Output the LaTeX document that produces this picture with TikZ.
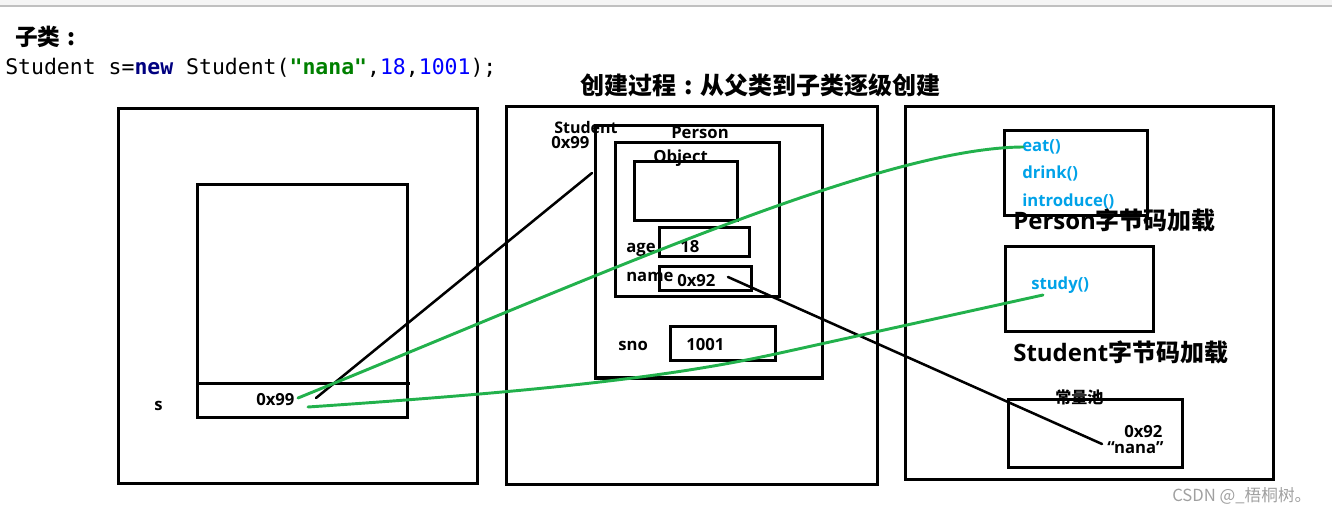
\documentclass[tikz,border=0pt]{standalone}
\usepackage{fontspec}
\usetikzlibrary{fit}
\setmainfont{Open Sans}
\newfontfamily\cjk{Noto Sans CJK SC}
\newfontfamily\codefont{DejaVu Sans Mono}
\definecolor{pgreen}{HTML}{22B14C}
\definecolor{pblue}{HTML}{00A2E8}
\definecolor{navy}{HTML}{000080}
\definecolor{cgreen}{HTML}{008000}
\definecolor{cblue}{HTML}{0000FF}
\definecolor{topbar}{HTML}{F5F5F5}
\definecolor{topline}{HTML}{C0C0C0}
\definecolor{wm}{HTML}{A0A0A0}
\newcommand\fwcolon{\makebox[1em][c]{:}}
\begin{document}
\begin{tikzpicture}[x=0.75pt,y=-0.75pt,
  bx/.style={draw, line width=2.25pt, inner sep=0pt},
  lbl/.style={font=\fontsize{12.5}{15}\selectfont\bfseries, inner sep=0pt, anchor=base west},
  meth/.style={lbl, text=pblue},
  big/.style={font=\fontsize{18}{21}\selectfont\bfseries, inner sep=0pt, anchor=base west},
  blk/.style={line width=1.9pt, line cap=round},
  gline/.style={line width=2.2pt, pgreen, line cap=round}]
\useasboundingbox (0,0) rectangle (1332,513);
\fill[topbar] (0,0) rectangle (1332,6);
\draw[topline, line width=1.2pt] (0,6) -- (1332,6);

% header texts
\node[anchor=base west, inner sep=0pt, font=\cjk\bfseries\fontsize{17}{20}\selectfont] (sub) at (15,46) {子类\fwcolon};
\node[anchor=base west, inner sep=0pt, font=\codefont\fontsize{16.1}{19}\selectfont] (code) at (5,75)
  {Student s={\bfseries\color{navy}new} Student({\bfseries\color{cgreen}"nana"},{\color{cblue}18},{\color{cblue}1001});};
\node[anchor=base west, inner sep=0pt, font=\cjk\bfseries\fontsize{18}{21}\selectfont] (title) at (580,95) {创建过程\fwcolon 从父类到子类逐级创建};

% frames
\node[bx, fit={(118,109) (477,483)}] (stackframe) {};
\node[bx, fit={(506,107) (877,484)}] (heapframe) {};
\node[bx, fit={(905,107) (1273,479)}] (methframe) {};

% stack
\node[bx, fit={(197,185) (407,417)}] (stackbox) {};
\draw[line width=2.25pt] (197,383) -- (410,383);
\node[lbl] (s) at (154,411) {s};
\node[lbl] (sval) at (256,406) {0x99};

% heap
\node[bx, fit={(595,126) (822,378)}] (person) {};
\node[lbl] (tObject) at (653,163) {Object};
\node[bx, fit={(615,143) (779,297)}] (object) {};
\node[bx, fit={(634,162) (737,221)}] (objinner) {};
\node[bx, fit={(659,228) (749,257)}] (agebox) {};
\node[bx, fit={(659,267) (751,291)}] (namebox) {};
\node[bx, fit={(670,327) (775,361)}] (snobox) {};
\node[lbl, font=\fontsize{12}{14}\selectfont\bfseries] (tStudent) at (554,134) {Student};
\node[lbl] (tAddr) at (551,149) {0x99};
\node[lbl] (tPerson) at (671,139) {Person};
\node[lbl] (tage) at (626,253) {age};
\node[lbl] (t18) at (680,253) {18};
\node[lbl] (tname) at (626,282) {name};
\node[lbl] (t092) at (677,287) {0x92};
\node[lbl] (tsno) at (618,350) {sno};
\node[lbl] (t1001) at (686,351) {1001};

% method area
\node[bx, fit={(1004,131) (1147,216)}] (pbyte) {};
\node[meth] (eat) at (1022,152) {eat()};
\node[meth] (drink) at (1022,179) {drink()};
\node[meth] (intro) at (1022,207) {introduce()};
\node[big] (plabel) at (1013,230) {Person{\cjk 字节码加载}};
\node[bx, fit={(1005,247) (1153,332)}] (sbyte) {};
\node[meth] (study) at (1031,290) {study()};
\node[big] (slabel) at (1013,362) {Student{\cjk 字节码加载}};
\node[anchor=base west, inner sep=0pt, font=\cjk\bfseries\fontsize{12}{14}\selectfont] (pool) at (1055,403) {常量池};
\node[bx, fit={(1008,399) (1182,467)}] (poolbox) {};
\node[lbl] (p092) at (1124,437) {0x92};
\node[lbl] (pnana) at (1107,453) {“nana”};

% watermark
\node[anchor=base west, inner sep=0pt, text=wm, font=\cjk\fontsize{12.5}{15}\selectfont] (wmark) at (1172,501) {CSDN @\_梧桐树。};

% connector end points
\coordinate (b1s) at (316,398);
\coordinate (b1e) at (592,173);
\coordinate (b2s) at (728,277);
\coordinate (b2e) at (1102,444);
\coordinate (g1s) at (298,398);
\coordinate (g1e) at (1023,147);
\coordinate (g2s) at (308,407);
\coordinate (g2m) at (780,353);
\coordinate (g2e) at (1043,295);

\draw[blk] (b1s) -- (b1e);
\draw[blk] (b2s) -- (b2e);
\draw[gline] (g1s) .. controls (600,275) and (880,148) .. (g1e);
\draw[gline] (g2s) .. controls (560,390) and (680,375) .. (g2m) -- (g2e);
\end{tikzpicture}
\end{document}
